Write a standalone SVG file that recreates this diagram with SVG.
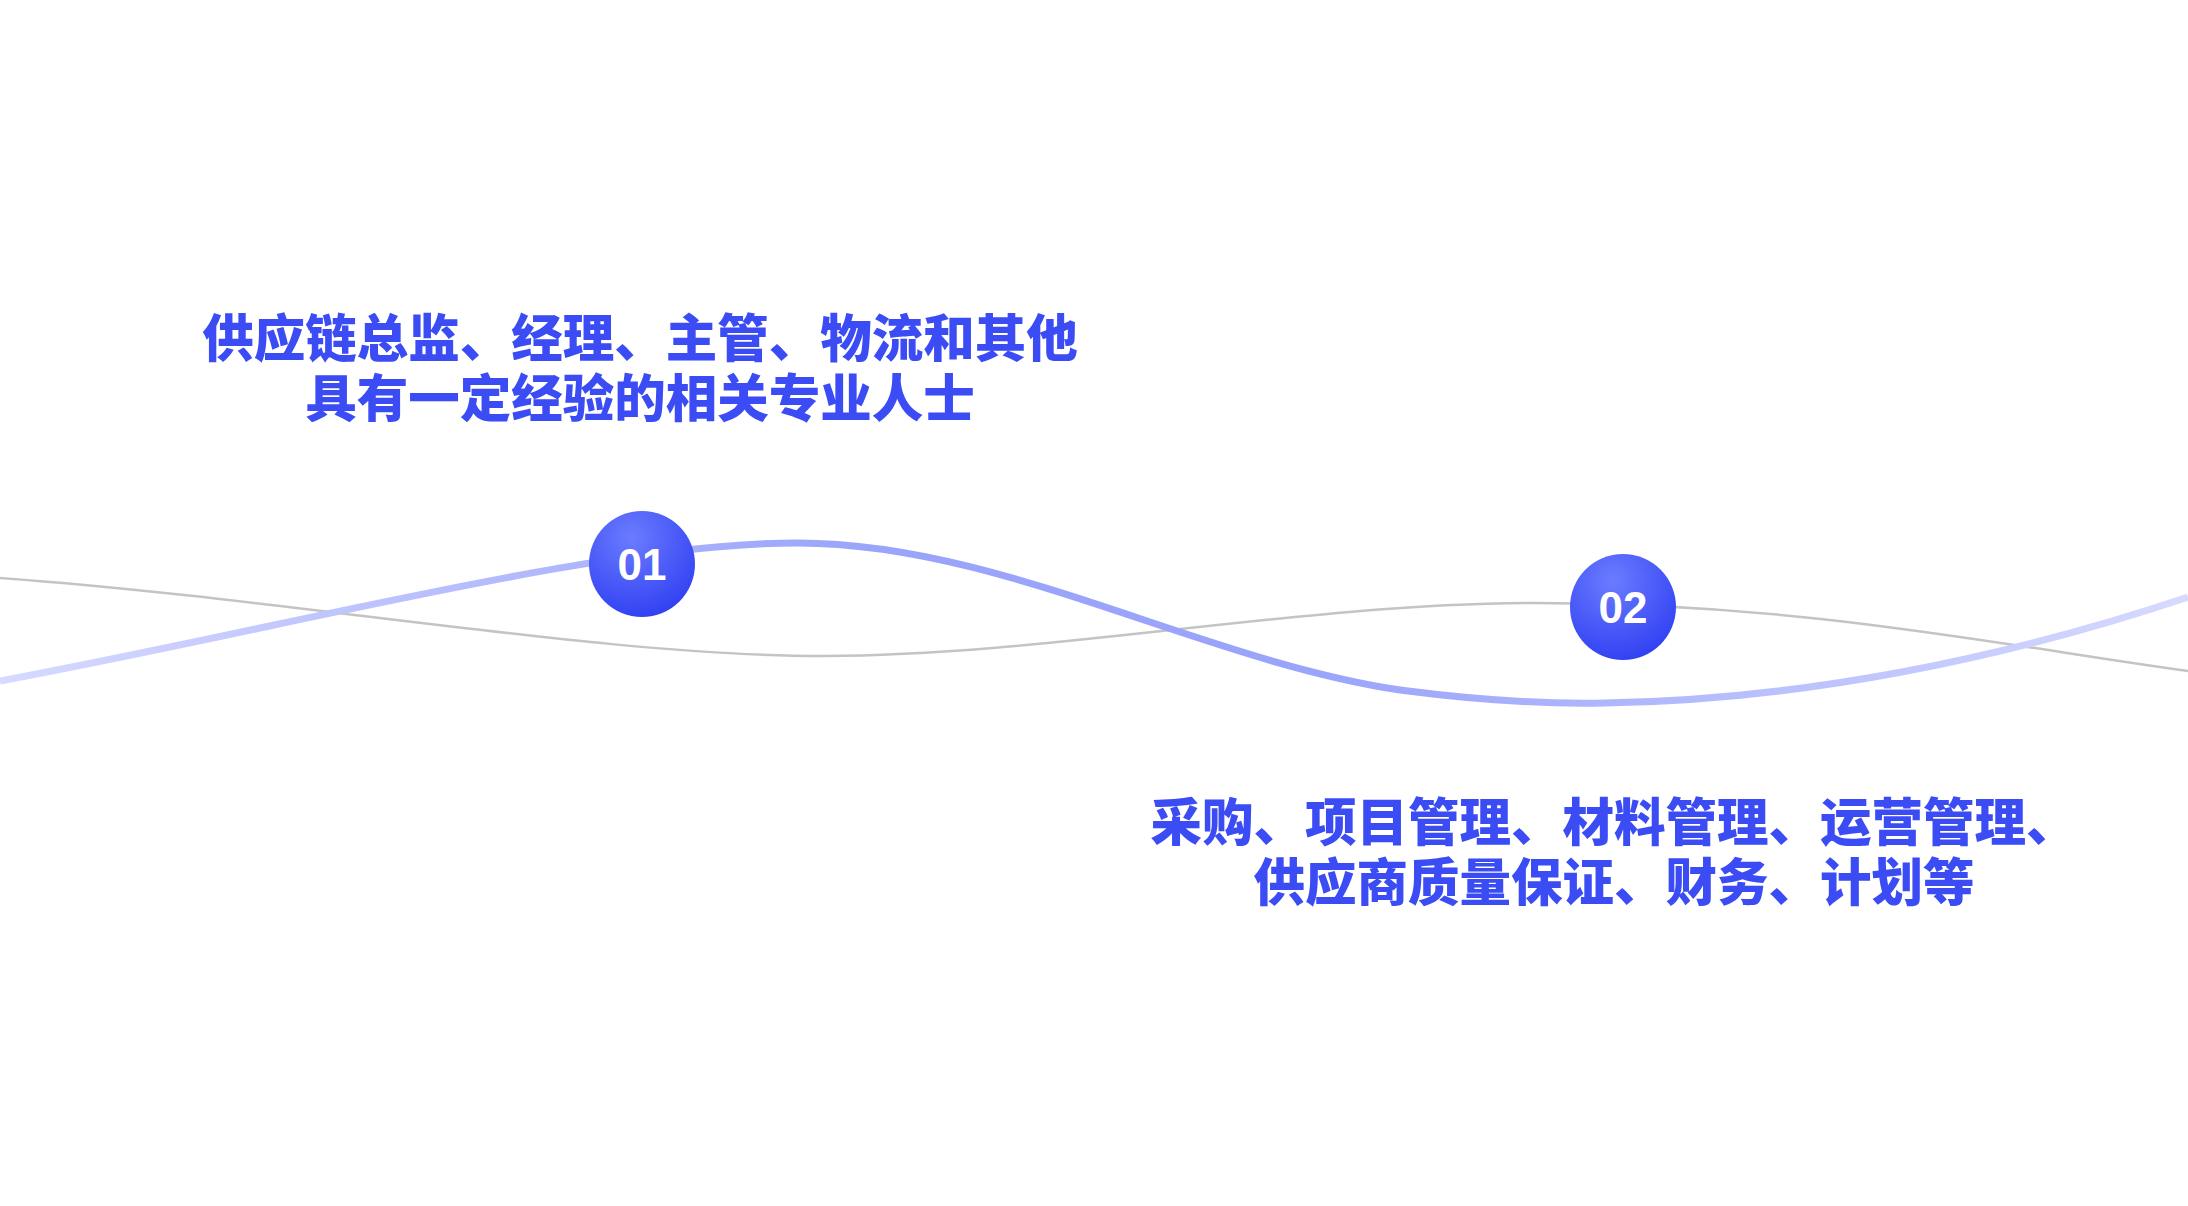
<svg xmlns="http://www.w3.org/2000/svg" width="2188" height="1206" viewBox="0 0 2188 1206">
<style>
.t{font-family:"Noto Sans CJK SC","Noto Sans",sans-serif;font-weight:900;font-size:51.5px;fill:#3b4cf5;text-anchor:middle}
.n{font-family:"Liberation Sans",Arial,sans-serif;font-weight:700;font-size:44px;fill:#fff;text-anchor:middle}
</style>
<defs>
<linearGradient id="bl" x1="0" y1="0" x2="2188" y2="0" gradientUnits="userSpaceOnUse">
<stop offset="0" stop-color="#d6daff"/><stop offset="0.4" stop-color="#9aa4fa"/><stop offset="0.6" stop-color="#9aa4fa"/><stop offset="1" stop-color="#d6daff"/>
</linearGradient>
<radialGradient id="cg" cx="0.4" cy="0.25" r="0.8">
<stop offset="0" stop-color="#6b7cff"/><stop offset="1" stop-color="#2f3ff2"/>
</radialGradient>
</defs>
<rect width="2188" height="1206" fill="#fff"/>
<g id="connectors" fill="none">
<path d="M0,578 C300,600 600,656 823,656 C1050,656 1300,603 1535,603 C1800,603 2000,645 2188,671" stroke="#c4c4c4" stroke-width="2.5"/>
<path d="M0,681 C300,625 600,543 798,543 C1000,543 1200,660 1400,690 C1500,703 1560,704 1605,703 C1800,700 2000,660 2188,597" stroke="url(#bl)" stroke-width="7"/>
</g>
<g id="node1">
<circle cx="642" cy="564" r="53" fill="url(#cg)"/>
<text class="n" x="642" y="580">01</text>
<text class="t" x="640" y="357">供应链总监、经理、主管、物流和其他</text>
<text class="t" x="640" y="417">具有一定经验的相关专业人士</text>
</g>
<g id="node2">
<circle cx="1623" cy="607" r="53" fill="url(#cg)"/>
<text class="n" x="1623" y="623">02</text>
<text class="t" x="1614" y="841">采购、项目管理、材料管理、运营管理、</text>
<text class="t" x="1614" y="901">供应商质量保证、财务、计划等</text>
</g>
</svg>
